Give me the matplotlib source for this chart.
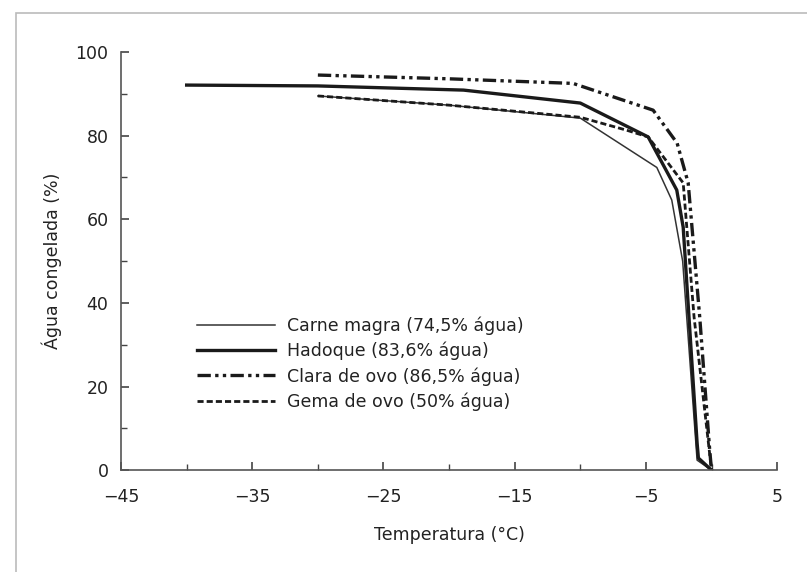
import numpy as np
import matplotlib.pyplot as plt
from matplotlib.patches import Rectangle

plt.rcParams['font.family'] = ['DejaVu Sans']

# curves: temperature (C) vs frozen water (%)
carne_t = [-30, -20, -10.0, -4.17, -3.03, -2.2, -1.1, 0.0]
carne_w = [89.5, 87.3, 84.2, 72.4, 64.6, 50.0, 2.4, 0.0]

hadoque_t = [-40, -30, -18.9, -10.0, -4.83, -2.65, -2.16, -1.1, -1.0, 0.0]
hadoque_w = [92.1, 91.9, 90.9, 87.8, 79.7, 67.0, 58.1, 6.5, 2.9, 0.0]

clara_t = [-30, -20, -10.55, -4.45, -2.62, -1.78, -0.9, -0.14, 0.0]
clara_w = [94.5, 93.6, 92.5, 86.1, 78.2, 68.7, 36.6, 4.8, 0.0]

gema_t = [-30, -20, -10.0, -6.46, -4.83, -2.16, -1.33, 0.0]
gema_w = [89.5, 87.3, 84.4, 81.3, 79.7, 68.7, 36.6, 0.0]

labels = ['Carne magra (74,5% água)', 'Hadoque (83,6% água)',
          'Clara de ovo (86,5% água)', 'Gema de ovo (50% água)']

fig = plt.figure(figsize=(8.07, 5.72), dpi=100)
ax = fig.add_axes([0.150, 0.178, 0.813, 0.731])

ink = '#1a1a1a'
ax.plot(carne_t, carne_w, '-', color='#333333', lw=1.1, label=labels[0])
ax.plot(hadoque_t, hadoque_w, '-', color=ink, lw=2.4, label=labels[1])
ax.plot(clara_t, clara_w, color=ink, lw=2.4, dashes=(4, 1.3, 1, 1.3, 1, 1.3), label=labels[2])
ax.plot(gema_t, gema_w, color=ink, lw=2.0, dashes=(2.2, 1.1), label=labels[3])

ax.set_xlim(-45, 5)
ax.set_ylim(0, 100)
ax.set_xticks(np.arange(-45, 6, 10))
ax.set_xticklabels(['\u221245', '\u221235', '\u221225', '\u221215', '\u22125', '5'])
ax.set_xticks(np.arange(-40, 5, 10), minor=True)
ax.set_yticks(np.arange(0, 101, 20))
ax.set_yticks(np.arange(10, 100, 20), minor=True)
ax.tick_params(which='both', direction='in', color='#444444', labelsize=12.5, labelcolor='#222222')
ax.tick_params(which='major', length=6, width=1.2)
ax.tick_params(which='minor', length=4, width=1.0)
ax.tick_params(axis='x', pad=13)
ax.tick_params(axis='y', pad=9)

for side in ['top', 'right']:
    ax.spines[side].set_visible(False)
for side in ['left', 'bottom']:
    ax.spines[side].set_color('#555555')
    ax.spines[side].set_linewidth(1.2)

ax.set_xlabel('Temperatura (°C)', fontsize=12.5, color='#222222', labelpad=14)
ax.set_ylabel('Água congelada (%)', fontsize=12.5, color='#222222', labelpad=10)

ax.legend(loc='upper left', bbox_to_anchor=(0.105, 0.385), frameon=False,
          fontsize=12.5, handlelength=4.5, handletextpad=0.7, labelspacing=0.4,
          borderaxespad=0, labelcolor='#222222')

# faint border of the scanned page
fig.patches.append(Rectangle((0.02, -0.01), 1.0, 0.987, transform=fig.transFigure,
                             fill=False, edgecolor='#bbbbbb', lw=1.2))

fig.savefig('out.png', dpi=100)
